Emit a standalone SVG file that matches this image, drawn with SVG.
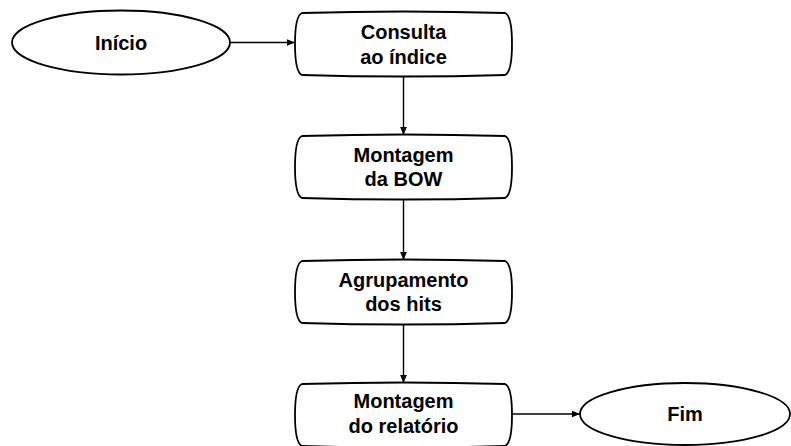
<svg xmlns="http://www.w3.org/2000/svg" width="791" height="446" viewBox="0 0 791 446">
  <style>
    .shape { fill: #ffffff; stroke: #000000; stroke-width: 1.8; }
    .edge { fill: none; stroke: #000000; stroke-width: 1.4; }
    .label { font-family: "Liberation Sans", Arial, sans-serif; font-weight: bold; font-size: 20px; fill: #000000; text-anchor: middle; }
  </style>
  <defs>
    <marker id="arrow" viewBox="0 0 10 10" refX="10" refY="5" markerWidth="8" markerHeight="8" markerUnits="userSpaceOnUse" orient="auto">
      <path d="M0,0.8 L10,5 L0,9.2 z" fill="#000000"/>
    </marker>
    <!-- process box with bowed sides, 217 wide, 64 tall, origin at top-left -->
    <path id="proc" d="M7,1 Q108.5,-2 210,1 C215,3 217,14 217,32 C217,50 215,61 210,63 Q108.5,66 7,63 C2,61 0,50 0,32 C0,14 2,3 7,1 Z"/>
  </defs>

  <g id="connectors">
    <path class="edge" d="M230,42.5 L295,42.5" marker-end="url(#arrow)"/>
    <path class="edge" d="M403.5,76 L403.5,135" marker-end="url(#arrow)"/>
    <path class="edge" d="M403.5,199 L403.5,260" marker-end="url(#arrow)"/>
    <path class="edge" d="M403.5,324 L403.5,383" marker-end="url(#arrow)"/>
    <path class="edge" d="M512,414 L580,414" marker-end="url(#arrow)"/>
  </g>

  <g id="inicio">
    <ellipse class="shape" cx="121" cy="42.5" rx="109" ry="32"/>
    <text class="label" x="121" y="49.5">Início</text>
  </g>

  <g id="consulta">
    <use href="#proc" class="shape" x="295" y="12"/>
    <text class="label" x="403.5" y="39">Consulta</text>
    <text class="label" x="403.5" y="63.5">ao índice</text>
  </g>

  <g id="montagem-bow">
    <use href="#proc" class="shape" x="295" y="135"/>
    <text class="label" x="403.5" y="162">Montagem</text>
    <text class="label" x="403.5" y="186">da BOW</text>
  </g>

  <g id="agrupamento">
    <use href="#proc" class="shape" x="295" y="260"/>
    <text class="label" x="403.5" y="286.5">Agrupamento</text>
    <text class="label" x="403.5" y="310.5">dos hits</text>
  </g>

  <g id="montagem-relatorio">
    <use href="#proc" class="shape" x="295" y="383"/>
    <text class="label" x="403.5" y="408">Montagem</text>
    <text class="label" x="403.5" y="433">do relatório</text>
  </g>

  <g id="fim">
    <ellipse class="shape" cx="685" cy="414" rx="105" ry="31"/>
    <text class="label" x="685" y="421">Fim</text>
  </g>
</svg>
